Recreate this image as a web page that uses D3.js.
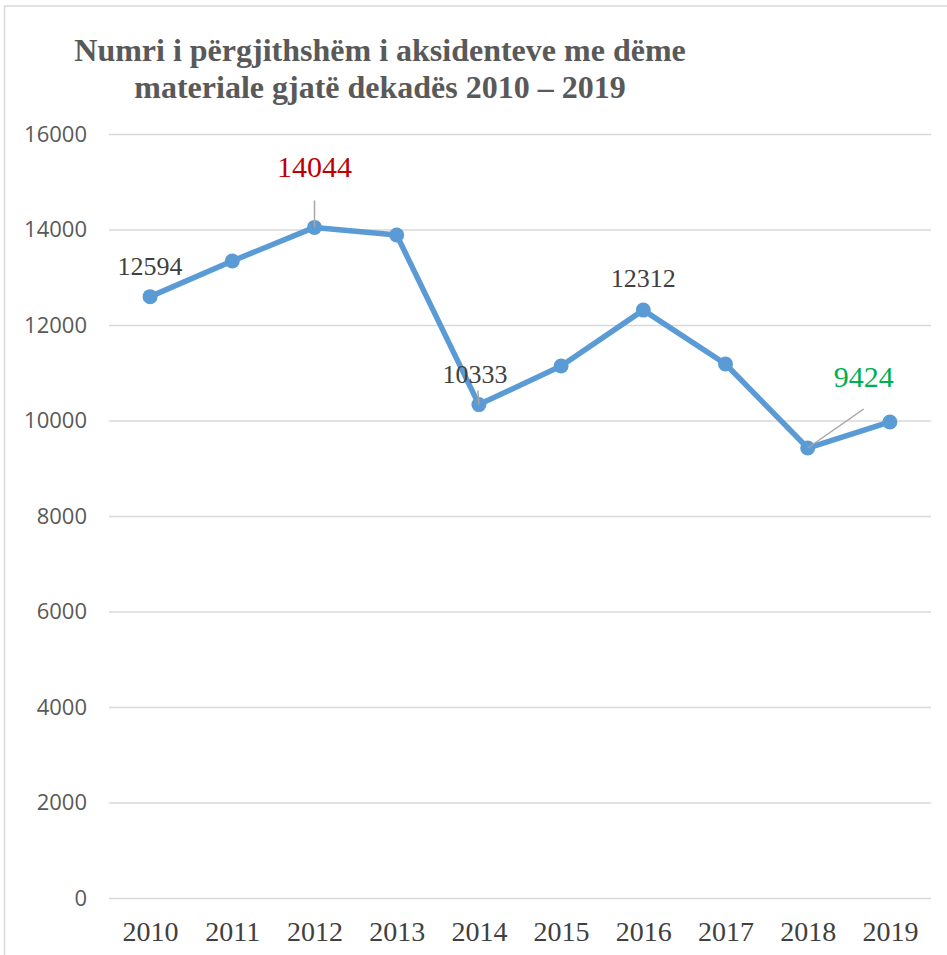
<!DOCTYPE html>
<html>
<head>
<meta charset="utf-8">
<script src="https://cdn.jsdelivr.net/npm/d3@7"></script>
<style>
  html, body { margin: 0; padding: 0; background: #fff; }
  svg { display: block; }
</style>
</head>
<body>
<div id="chart"></div>
<script>
// Aksidentet me dëme materiale, 2010–2019
const years = ["2010", "2011", "2012", "2013", "2014", "2015", "2016", "2017", "2018", "2019"];
const accidents = [12594, 13340, 14044, 13885, 10333, 11141, 12312, 11183, 9424, 9969];
const yTicks = [0, 2000, 4000, 6000, 8000, 10000, 12000, 14000, 16000];
const titleLines = ["Numri i përgjithshëm i aksidenteve me dëme", "materiale gjatë dekadës 2010 – 2019"];
// labelled points: year, colour, size, offset of text, leader line
const labelled = [
  { year: "2010", color: "#404040", size: 26, dx: 0, dy: -22 },
  { year: "2012", color: "#C00000", size: 30, dx: 0, dy: -50, leader: [0, -27] },
  { year: "2014", color: "#404040", size: 26, dx: -4, dy: -22, leader: [-1, -14] },
  { year: "2016", color: "#404040", size: 26, dx: 0, dy: -23 },
  { year: "2018", color: "#00B050", size: 30, dx: 56, dy: -61, leader: [56, -39] }
];

const W = 947, H = 955;
const margin = { top: 134, right: 16, bottom: 57, left: 109 };
const width = W - margin.left - margin.right;
const height = H - margin.top - margin.bottom;

const svg = d3.select("#chart").append("svg")
  .attr("width", W).attr("height", H);

// chart area border (only top + left visible in the crop)
svg.append("rect")
  .attr("x", 4.5).attr("y", 6).attr("width", W + 20).attr("height", H + 20)
  .attr("fill", "none").attr("stroke", "#d9d9d9").attr("stroke-width", 1.5);

// Title
const title = svg.append("text")
  .attr("font-family", "'Liberation Serif', 'Times New Roman', serif")
  .attr("font-weight", "bold").attr("font-size", 32).attr("fill", "#595959")
  .attr("text-anchor", "middle");
titleLines.forEach((t, i) => {
  title.append("tspan").attr("x", 380).attr("y", 61 + i * 37).text(t);
});

const g = svg.append("g").attr("transform", `translate(${margin.left},${margin.top})`);

const x = d3.scalePoint().domain(years).range([0, width]).padding(0.5);
const y = d3.scaleLinear().domain([0, 16000]).range([height, 0]);

// Gridlines + y labels
const yAxis = g.append("g")
  .call(d3.axisLeft(y).tickValues(yTicks).tickSize(-width).tickPadding(22).tickFormat(d3.format("d")));
yAxis.select(".domain").remove();
yAxis.selectAll(".tick line").attr("stroke", "#d9d9d9").attr("stroke-width", 1.5);
yAxis.selectAll(".tick text")
  .attr("font-family", "'Open Sans', sans-serif").attr("font-size", 22).attr("fill", "#595959");

// X labels
const xAxis = g.append("g")
  .attr("transform", `translate(0,${height})`)
  .call(d3.axisBottom(x).tickSize(0).tickPadding(23));
xAxis.select(".domain").remove();
xAxis.selectAll(".tick text")
  .attr("font-family", "'Liberation Serif', 'Times New Roman', serif")
  .attr("font-size", 28).attr("fill", "#404040");

// Line
const line = d3.line().x((d, i) => x(years[i])).y(d => y(d));
g.append("path")
  .datum(accidents)
  .attr("d", line)
  .attr("fill", "none").attr("stroke", "#5B9BD5").attr("stroke-width", 5.5)
  .attr("stroke-linejoin", "round");

g.selectAll("circle.pt")
  .data(accidents)
  .join("circle")
  .attr("class", "pt")
  .attr("cx", (d, i) => x(years[i]))
  .attr("cy", d => y(d))
  .attr("r", 7.5)
  .attr("fill", "#5B9BD5");

// Data labels with leader lines
labelled.forEach(l => {
  const i = years.indexOf(l.year);
  const px = x(l.year), py = y(accidents[i]);
  if (l.leader) {
    g.append("line")
      .attr("x1", px).attr("y1", py)
      .attr("x2", px + l.leader[0]).attr("y2", py + l.leader[1])
      .attr("stroke", "#a6a6a6").attr("stroke-width", 1.5);
  }
  g.append("text")
    .attr("x", px + l.dx).attr("y", py + l.dy)
    .attr("text-anchor", "middle")
    .attr("font-family", "'Liberation Serif', 'Times New Roman', serif")
    .attr("font-size", l.size).attr("fill", l.color)
    .text(accidents[i]);
});
</script>
</body>
</html>
